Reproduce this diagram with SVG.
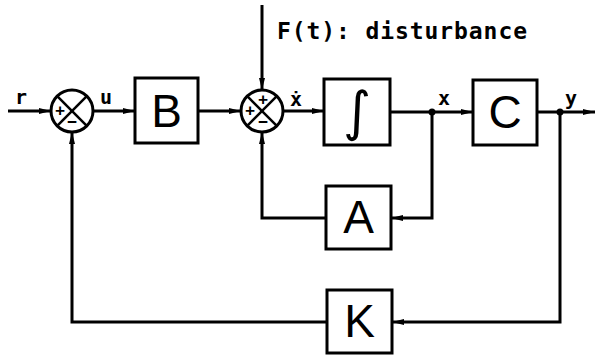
<svg xmlns="http://www.w3.org/2000/svg" width="595" height="355" viewBox="0 0 595 355">
<style>
  .box { fill: #fff; stroke: #000; stroke-width: 3; }
  .sum { fill: #fff; stroke: #000; stroke-width: 3; }
  .xl { stroke: #000; stroke-width: 2.5; fill: none; }
  .wire { stroke: #000; stroke-width: 3; fill: none; }
  .big { font-family: "Liberation Sans", Arial, sans-serif; font-size: 46px; text-anchor: middle; fill: #000; }
  .lbl { font-family: "DejaVu Sans Mono", "Liberation Mono", monospace; font-weight: bold; font-size: 20px; fill: #000; }
  .dist { font-family: "DejaVu Sans Mono", "Liberation Mono", monospace; font-weight: bold; font-size: 23px; fill: #000; }
  .sign { font-family: "DejaVu Sans Mono", "Liberation Mono", monospace; font-weight: bold; font-size: 16px; text-anchor: middle; fill: #000; }
  .integ { font-family: "DejaVu Sans", sans-serif; font-size: 54px; text-anchor: middle; fill: #000; }
  .dot { fill: #000; }
</style>
<defs>
  <marker id="arr" markerWidth="12" markerHeight="8" refX="12" refY="4" orient="auto" markerUnits="userSpaceOnUse">
    <path d="M0,1 L12,4 L0,7 Z" fill="#000"/>
  </marker>
</defs>
<rect width="595" height="355" fill="#fff"/>

<g id="connectors">
  <line class="wire" x1="8" y1="111" x2="51" y2="111" marker-end="url(#arr)"/>
  <line class="wire" x1="93" y1="111" x2="135" y2="111" marker-end="url(#arr)"/>
  <line class="wire" x1="198" y1="111" x2="241" y2="111" marker-end="url(#arr)"/>
  <line class="wire" x1="262" y1="5" x2="262" y2="90" marker-end="url(#arr)"/>
  <line class="wire" x1="283" y1="111" x2="324" y2="111" marker-end="url(#arr)"/>
  <line class="wire" x1="390" y1="112" x2="473" y2="112" marker-end="url(#arr)"/>
  <line class="wire" x1="537" y1="112" x2="595" y2="112" marker-end="url(#arr)"/>
  <polyline class="wire" points="432,112 432,218 391,218" marker-end="url(#arr)"/>
  <polyline class="wire" points="326,218 262,218 262,132" marker-end="url(#arr)"/>
  <polyline class="wire" points="560,112 560,322 392,322" marker-end="url(#arr)"/>
  <polyline class="wire" points="327,322 72,322 72,132" marker-end="url(#arr)"/>
  <circle class="dot" cx="432" cy="112" r="3.5"/>
  <circle class="dot" cx="560" cy="112" r="3.5"/>
  <text class="lbl" x="15" y="104">r</text>
  <text class="lbl" x="100" y="104">u</text>
  <text class="lbl" x="290" y="106">ẋ</text>
  <text class="lbl" x="438" y="105">x</text>
  <text class="lbl" x="565" y="105">y</text>
  <text class="dist" x="277" y="39" textLength="250" lengthAdjust="spacing">F(t): disturbance</text>
</g>

<g id="sum1">
  <circle class="sum" cx="72" cy="111" r="21"/>
  <line class="xl" x1="57.2" y1="96.2" x2="86.8" y2="125.8"/>
  <line class="xl" x1="86.8" y1="96.2" x2="57.2" y2="125.8"/>
  <text class="sign" x="60" y="116">+</text>
  <text class="sign" x="72" y="127">−</text>
</g>

<g id="B">
  <rect class="box" x="135" y="78" width="63" height="65"/>
  <text class="big" x="166.5" y="127">B</text>
</g>

<g id="sum2">
  <circle class="sum" cx="262" cy="111" r="21"/>
  <line class="xl" x1="247.2" y1="96.2" x2="276.8" y2="125.8"/>
  <line class="xl" x1="276.8" y1="96.2" x2="247.2" y2="125.8"/>
  <text class="sign" x="263" y="105">+</text>
  <text class="sign" x="250" y="116">+</text>
  <text class="sign" x="263" y="127">−</text>
</g>

<g id="integrator">
  <rect class="box" x="324" y="79" width="66" height="66"/>
  <text class="integ" x="357" y="130">∫</text>
</g>

<g id="C">
  <rect class="box" x="473" y="80" width="64" height="65"/>
  <text class="big" x="505" y="128">C</text>
</g>

<g id="A">
  <rect class="box" x="326" y="186" width="65" height="63"/>
  <text class="big" x="358.5" y="233">A</text>
</g>

<g id="K">
  <rect class="box" x="327" y="290" width="65" height="63"/>
  <text class="big" x="359.5" y="337">K</text>
</g>
</svg>
